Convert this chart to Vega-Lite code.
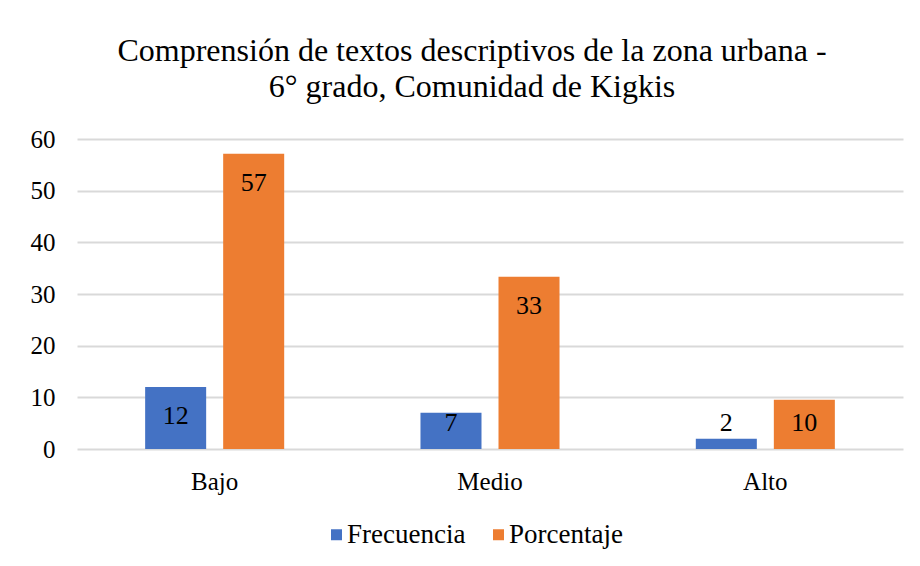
{
  "$schema": "https://vega.github.io/schema/vega-lite/v6.json",
  "autosize": "none",
  "width": 810,
  "height": 310,
  "padding": {"left": 77, "top": 139, "right": 33, "bottom": 117},
  "background": "white",
  "title": {
    "text": ["Comprensión de textos descriptivos de la zona urbana -", "6° grado, Comunidad de Kigkis"],
    "font": "Liberation Serif",
    "fontSize": 32,
    "fontWeight": "normal",
    "color": "#000000",
    "anchor": "middle",
    "dx": -10,
    "offset": 23,
    "lineHeight": 36
  },
  "data": {
    "values": [
      {"Nivel": "Bajo", "Serie": "Frecuencia", "Valor": 12},
      {"Nivel": "Bajo", "Serie": "Porcentaje", "Valor": 57.14},
      {"Nivel": "Medio", "Serie": "Frecuencia", "Valor": 7},
      {"Nivel": "Medio", "Serie": "Porcentaje", "Valor": 33.33},
      {"Nivel": "Alto", "Serie": "Frecuencia", "Valor": 2},
      {"Nivel": "Alto", "Serie": "Porcentaje", "Valor": 9.52}
    ]
  },
  "encoding": {
    "x": {
      "field": "Nivel",
      "type": "nominal",
      "sort": ["Bajo", "Medio", "Alto"],
      "scale": {"range": [0, 826], "paddingInner": 0.495, "paddingOuter": 0.2475},
      "axis": {
        "title": null,
        "labelAngle": 0,
        "labelFont": "Liberation Serif",
        "labelFontSize": 25,
        "labelColor": "#000000",
        "labelPadding": 20,
        "ticks": false,
        "domain": false,
        "grid": false
      }
    },
    "xOffset": {
      "field": "Serie",
      "type": "nominal",
      "scale": {"paddingInner": 0.218, "paddingOuter": 0}
    },
    "y": {
      "field": "Valor",
      "type": "quantitative",
      "scale": {"domain": [0, 60]},
      "axis": {
        "title": null,
        "values": [0, 10, 20, 30, 40, 50, 60],
        "labelFont": "Liberation Serif",
        "labelFontSize": 25,
        "labelColor": "#000000",
        "labelPadding": 22,
        "ticks": false,
        "domain": false,
        "grid": true,
        "gridColor": "#D9D9D9",
        "gridWidth": 2
      }
    }
  },
  "layer": [
    {
      "mark": {"type": "bar"},
      "encoding": {
        "color": {
          "field": "Serie",
          "type": "nominal",
          "scale": {"domain": ["Frecuencia", "Porcentaje"], "range": ["#4472C4", "#ED7D31"]},
          "legend": {
            "title": null,
            "orient": "none",
            "legendX": 246,
            "legendY": 382,
            "direction": "horizontal",
            "symbolType": "square",
            "symbolSize": 121,
            "symbolStrokeWidth": 0,
            "labelFont": "Liberation Serif",
            "labelFontSize": 27,
            "labelColor": "#000000",
            "labelOffset": -3,
            "columnPadding": 19
          }
        }
      }
    },
    {
      "mark": {
        "type": "text",
        "font": "Liberation Serif",
        "fontSize": 26,
        "color": "#000000",
        "baseline": "middle",
        "dy": {"expr": "min(29, 284 - scale('y', datum.Valor))"}
      },
      "encoding": {
        "text": {"field": "Valor", "type": "quantitative", "format": ".0f"}
      }
    }
  ],
  "config": {
    "view": {"stroke": null}
  }
}
